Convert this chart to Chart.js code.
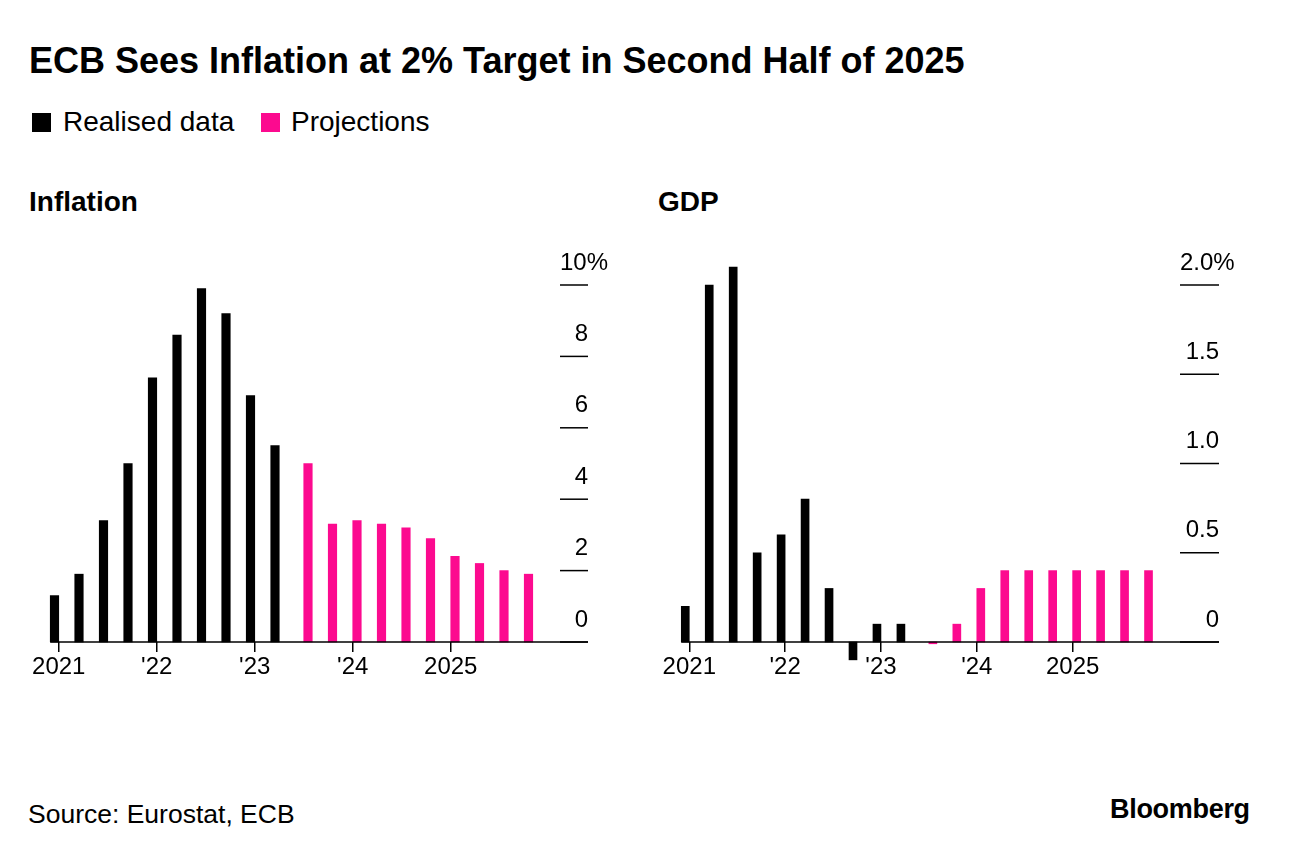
<!DOCTYPE html>
<html>
<head>
<meta charset="utf-8">
<script src="https://cdn.jsdelivr.net/npm/chart.js@4.4.0/dist/chart.umd.min.js"></script>
<style>
  html, body { margin: 0; padding: 0; background: #fff; }
  body { width: 1289px; height: 856px; position: relative; overflow: hidden;
         font-family: "Liberation Sans", Arial, sans-serif; color: #000; }
  .txt { position: absolute; line-height: 1; white-space: nowrap; }
  .title { left: 29px; top: 43px; font-size: 36px; font-weight: bold; }
  .legend { top: 108px; font-size: 28px; }
  .swatch { position: absolute; top: 113px; width: 19px; height: 19px; }
  .panel { top: 188px; font-size: 28px; font-weight: bold; }
  .source { left: 28px; top: 801px; font-size: 26.5px; }
  .logo { left: 1110px; top: 796px; font-size: 27px; font-weight: bold; letter-spacing: -0.3px; }
  canvas { position: absolute; }
</style>
</head>
<body>
<div class="txt title">ECB Sees Inflation at 2% Target in Second Half of 2025</div>
<div class="swatch" style="left:32px;background:#000"></div>
<div class="txt legend" style="left:63px">Realised data</div>
<div class="swatch" style="left:261px;background:#fc0a8f"></div>
<div class="txt legend" style="left:291px">Projections</div>
<div class="txt panel" style="left:29px">Inflation</div>
<div class="txt panel" style="left:658px">GDP</div>
<canvas id="inflationChart" width="640" height="444" style="left:0;top:240px"></canvas>
<canvas id="gdpChart" width="608" height="444" style="left:630px;top:240px"></canvas>
<div class="txt source">Source: Eurostat, ECB</div>
<div class="txt logo">Bloomberg</div>

<script>
const quarters = [
    '2021 Q1', '2021 Q2', '2021 Q3', '2021 Q4',
    '2022 Q1', '2022 Q2', '2022 Q3', '2022 Q4',
    '2023 Q1', '2023 Q2', '2023 Q3', '2023 Q4',
    '2024 Q1', '2024 Q2', '2024 Q3', '2024 Q4',
    '2025 Q1', '2025 Q2', '2025 Q3', '2025 Q4'
];
const yearTicks = ['2021', "'22", "'23", "'24", '2025'];

// Inflation, % y/y (2021 Q1 - 2023 Q2 realised, 2023 Q3 on projected)
const inflationRealised = [1.3, 1.9, 3.4, 5.0, 7.4, 8.6, 9.9, 9.2, 6.9, 5.5];
const inflationProjected = [5.0, 3.3, 3.4, 3.3, 3.2, 2.9, 2.4, 2.2, 2.0, 1.9];
const inflationTicks = ['0', '2', '4', '6', '8', '10%'];

// GDP, % q/q
const gdpRealised = [0.2, 2.0, 2.1, 0.5, 0.6, 0.8, 0.3, -0.1, 0.1, 0.1];
const gdpProjected = [-0.01, 0.1, 0.3, 0.4, 0.4, 0.4, 0.4, 0.4, 0.4, 0.4];
const gdpTicks = ['0', '0.5', '1.0', '1.5', '2.0%'];

const BLACK = '#000000';
const PINK = '#fc0a8f';
const FONT = '"Liberation Sans", Arial, sans-serif';

Chart.defaults.font.family = FONT;
Chart.defaults.color = '#000';

// baseline at zero plus Bloomberg-style short ticks with labels above them on the right
const bbgAxis = {
    id: 'bbgAxis',
    afterDatasetsDraw(chart, args, opts) {
        const { ctx, scales: { x, y } } = chart;
        const y0 = y.getPixelForValue(0);
        ctx.save();
        ctx.strokeStyle = '#000';
        ctx.lineWidth = 1.5;
        ctx.beginPath();
        ctx.moveTo(x.getPixelForValue(0) - opts.barWidth, y0);
        ctx.lineTo(opts.right, y0);
        ctx.stroke();

        ctx.font = '24px ' + FONT;
        ctx.fillStyle = '#000';
        ctx.textBaseline = 'alphabetic';
        y.ticks.forEach((t, i) => {
            const py = y.getPixelForValue(t.value);
            ctx.beginPath();
            ctx.moveTo(opts.right - opts.tickWidth, py);
            ctx.lineTo(opts.right, py);
            ctx.stroke();
            const last = i === y.ticks.length - 1;
            ctx.textAlign = last ? 'left' : 'right';
            ctx.fillText(opts.labels[i], last ? opts.right - opts.tickWidth : opts.right, py - 15.5);
        });
        ctx.restore();
    }
};

function makeChart(id, realised, projected, tickLabels, o) {
    const gap = projected.map(() => null);
    const lead = realised.map(() => null);
    return new Chart(document.getElementById(id), {
        type: 'bar',
        data: {
            labels: quarters,
            datasets: [
                { label: 'Realised data', data: realised.concat(gap), backgroundColor: BLACK,
                  barThickness: o.barWidth, clip: false },
                { label: 'Projections', data: lead.concat(projected), backgroundColor: PINK,
                  barThickness: o.barWidth, clip: false }
            ]
        },
        options: {
            responsive: false,
            animation: false,
            layout: { padding: { left: o.padLeft, right: o.padRight, top: 45, bottom: 0 } },
            plugins: {
                legend: { display: false },
                tooltip: { enabled: false },
                bbgAxis: { barWidth: o.barWidth, right: o.right, tickWidth: o.tickWidth, labels: tickLabels }
            },
            scales: {
                x: {
                    offset: true,
                    grid: {
                        offset: false,
                        drawOnChartArea: false,
                        tickLength: 10,
                        lineWidth: 1.5,
                        color: c => (c.index % 4 === 0 ? '#000' : 'rgba(0,0,0,0)')
                    },
                    border: { display: false },
                    ticks: {
                        autoSkip: false,
                        maxRotation: 0,
                        padding: 1,
                        font: { size: 24 },
                        callback: (v, i) => (i % 4 === 0 ? yearTicks[i / 4] : '')
                    },
                    afterFit: s => { s.height = 42; }
                },
                y: { display: false, min: 0, max: o.max, ticks: { stepSize: o.step } }
            }
        },
        plugins: [bbgAxis]
    });
}

makeChart('inflationChart', inflationRealised, inflationProjected, inflationTicks,
    { max: 10, step: 2, barWidth: 8.5, padLeft: 46.5, padRight: 103.5, right: 588, tickWidth: 28 });
makeChart('gdpChart', gdpRealised, gdpProjected, gdpTicks,
    { max: 2, step: 0.5, barWidth: 8, padLeft: 47.3, padRight: 81.5, right: 589, tickWidth: 39 });
</script>
</body>
</html>
